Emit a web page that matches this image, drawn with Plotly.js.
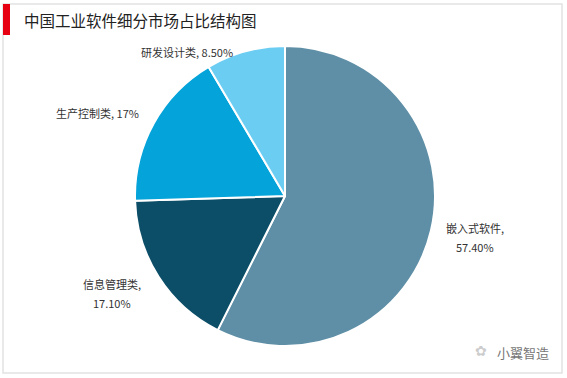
<!DOCTYPE html>
<html><head><meta charset="utf-8">
<script src="https://cdn.plot.ly/plotly-3.0.1.min.js"></script>
<style>html,body{margin:0;padding:0;background:#fff;}#c{width:567px;height:378px;}</style>
</head><body><div id="c"></div>
<script>
var categories = ["嵌入式软件", "信息管理类", "生产控制类", "研发设计类"];
var shares = [57.4, 17.1, 17, 8.5];
var valueLabels = ["57.40%", "17.10%", "17%", "8.50%"];
var colors = ["#5e8fa6", "#0c4e68", "#04a3d9", "#6ccdf3"];
var titleText = "中国工业软件细分市场占比结构图";

var W = 567, H = 378;
function px(x){return x/W;} function py(y){return 1-y/H;}

var trace = {
  type: "pie", values: shares, labels: categories, sort: false,
  direction: "clockwise", rotation: 0, textinfo: "none", hoverinfo: "label+percent",
  marker: {colors: colors, line: {color: "#ffffff", width: 2}},
  domain: {x: [px(135), px(435)], y: [py(346), py(46)]}, showlegend: false
};
var lf = {family: "Noto Sans CJK SC, sans-serif", size: 11, color: "#333"};
var ann = [
  {x: px(187), y: py(52), text: categories[3] + ", " + valueLabels[3]},
  {x: px(97), y: py(113), text: categories[2] + ", " + valueLabels[2]},
  {x: px(475), y: py(228), text: categories[0] + ","},
  {x: px(475), y: py(247), text: valueLabels[0]},
  {x: px(112), y: py(284), text: categories[1] + ","},
  {x: px(112), y: py(303), text: valueLabels[1]}
].map(function(a){a.xref="paper";a.yref="paper";a.showarrow=false;a.font=lf;a.xanchor="center";a.yanchor="middle";return a;});
ann.push({xref:"paper",yref:"paper",x:px(22),y:py(20),xanchor:"left",yanchor:"middle",showarrow:false,
  text:titleText,font:{family:"Noto Sans CJK SC, sans-serif",size:15.5,color:"#222"}});
ann.push({xref:"paper",yref:"paper",x:px(495),y:py(352),xanchor:"left",yanchor:"middle",showarrow:false,
  text:"小翼智造",font:{family:"Noto Sans CJK SC, sans-serif",size:13,color:"#777"}});
ann.push({xref:"paper",yref:"paper",x:px(481),y:py(351),xanchor:"center",yanchor:"middle",showarrow:false,
  text:"✿",font:{family:"DejaVu Sans",size:14,color:"#ccc"}});

var layout = {
  width: W, height: H, margin: {l:0,r:0,t:0,b:0}, paper_bgcolor: "#fff",
  annotations: ann,
  shapes: [
    {type:"rect",xref:"paper",yref:"paper",x0:px(3),x1:px(562),y0:py(373),y1:py(4),line:{color:"#e2e2e2",width:1.5},fillcolor:"rgba(0,0,0,0)"},
    {type:"rect",xref:"paper",yref:"paper",x0:px(3),x1:px(10),y0:py(35),y1:py(4),line:{width:0},fillcolor:"#e60012"}
  ]
};
Plotly.newPlot("c", [trace], layout, {displayModeBar:false, staticPlot:true});
</script></body></html>
